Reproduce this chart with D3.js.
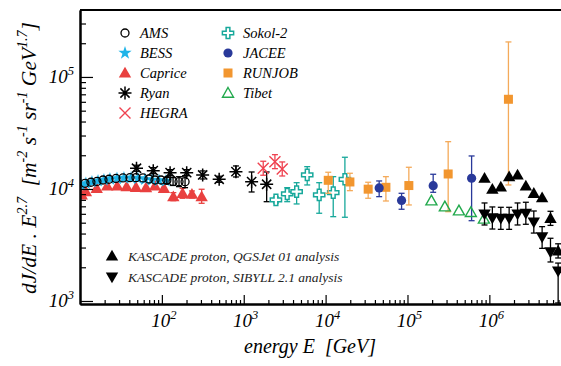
<!DOCTYPE html>
<html>
<head>
<meta charset="utf-8">
<script src="https://d3js.org/d3.v7.min.js"></script>
<style>
  body { margin: 0; background: #fff; }
  text { font-family: "Liberation Serif", "DejaVu Serif", serif; font-style: italic; }
</style>
</head>
<body>
<svg id="chart" width="561" height="366"></svg>
<script>
// ---- data (E in GeV, flux*E^2.7) ----
const amsE  = [11.5, 13.6, 16.1, 19.1, 22.6, 27.5, 33.5, 40.8, 48.3, 58.8, 69.5, 82.4, 97.5, 115, 137, 162, 192];
const amsF  = [11240, 11480, 11670, 12030, 12210, 12410, 12540, 12620, 12620, 12540, 12280, 12030, 12030, 11910, 11670, 11620, 11620];
const amsLo = [null, null, null, null, null, null, null, null, null, null, null, null, null, 11190, 10750, 10490, 10270];
const amsHi = [null, null, null, null, null, null, null, null, null, null, null, null, null, 12670, 12670, 12870, 13140];

const bessE = [10.3, 11.8, 14, 16.6, 19.6, 23.2, 28.3, 34.4, 42, 51, 62.2, 75.7, 92.2, 112];
const bessF = [10860, 11200, 11550, 11790, 12030, 12280, 12410, 12540, 12540, 12410, 12160, 12030, 11910, 11790];

const capriceE  = [10.5, 11.8, 16, 21.5, 28.5, 37.1, 48.3, 64, 82.4, 106, 138, 179, 233, 306];
const capriceF  = [8840, 9460, 10140, 10640, 10640, 10480, 10350, 10270, 10640, 10140, 8540, 9150, 8970, 8540];
const capriceLo = [null, null, null, null, null, null, null, null, null, null, 7860, 8260, 8310, 7450];
const capriceHi = [null, null, null, null, null, null, null, null, null, null, 9270, 10140, 9600, 9940];

const ryanE  = [49, 78.5, 126, 201, 315, 501, 803, 1248, 1905];
const ryanF  = [15310, 14570, 13980, 13980, 13340, 12210, 14270, 11620, 11020];
const ryanLo = [14390, 13690, 13140, 13140, 12280, 11470, 12800, 9400, 7700];
const ryanHi = [16290, 15500, 14870, 14870, 14490, 12990, 16050, 14180, 14180];

const hegraE  = [1730, 2404, 2953];
const hegraF  = [15310, 17530, 15090];
const hegraLo = [13260, 15180, 13060];
const hegraHi = [17680, 20250, 17430];

const sokolE  = [2472, 3396, 4425, 5960, 8350, 12390, 17200];
const sokolF  = [7980, 9020, 9460, 13340, 8840, 9270, 12210];
const sokolLo = [7500, 7700, 7350, 10860, 6070, 5660, 5590];
const sokolHi = [8490, 10270, 11380, 15820, 11380, 12880, 19190];

const jaceeE  = [45100, 84700, 206000, 607000];
const jaceeF  = [10210, 7900, 10700, 12460];
const jaceeLo = [8540, 6590, 9340, 5210];
const jaceeHi = [11790, 9150, 13530, 19710];

const runjobE  = [10770, 19800, 33100, 54500, 103900, 314000, 1710000];
const runjobF  = [11950, 11550, 9960, 10350, 10730, 13610, 63200];
const runjobLo = [9150, 9660, 8260, 7810, 7200, 6270, 10860];
const runjobHi = [14100, 13810, 11480, 12880, 15620, 26440, 205400];

const tibetE = [196000, 286000, 425000, 594000, 857000];
const tibetF = [7860, 6950, 6400, 6190, 5400];

const kascadeE  = [873000, 1088000, 1380000, 1745000, 2210000, 2790000, 3490000, 4410000, 5580000, 6920000];
const qgsF      = [12460, 9940, 10420, 12880, 13340, 10640, 9150, 8360, 5470, 2800];
const qgsLo     = [null, null, null, null, null, null, null, null, 4730, 2420];
const qgsHi     = [null, null, null, null, null, null, null, null, 6320, 3240];
const sibF      = [5980, 5510, 5470, 5470, 5980, 6070, 5070, 3730, 2740, 1850];
const sibLo     = [4770, 4390, 4360, 4360, 4770, 4840, 4040, 2950, 2230, 960];
const sibHi     = [7500, 6910, 6860, 6860, 7500, 7610, 6360, 4610, 3630, 2180];

const xLabelTicks = [1e2, 1e3, 1e4, 1e5, 1e6];
const yLabelTicks = [1e3, 1e4, 1e5];

const legendTop = ["AMS", "BESS", "Caprice", "Ryan", "HEGRA"];
const legendTop2 = ["Sokol-2", "JACEE", "RUNJOB", "Tibet"];
const legendBottom = ["KASCADE proton, QGSJet 01 analysis", "KASCADE proton, SIBYLL 2.1 analysis"];

// ---- layout ----
const svg = d3.select("#chart");
const pLeft = 80, pRight = 561, pTop = 10, pBottom = 304;

const x = d3.scaleLog().domain([10, 7.5e6]).range([pLeft, pRight]);
const y = d3.scaleLog().domain([940, 3.96e5]).range([pBottom, pTop]);

svg.append("defs").append("clipPath").attr("id", "plotclip")
  .append("rect").attr("x", pLeft).attr("y", pTop).attr("width", pRight - pLeft).attr("height", pBottom - pTop);

// ---- markers ----
function drawMarker(g, type, color) {
  if (type === "circleOpen") {
    g.append("circle").attr("r", 4).attr("fill", "none").attr("stroke", color).attr("stroke-width", 1.3);
  } else if (type === "circle") {
    g.append("circle").attr("r", 4.6).attr("fill", color);
  } else if (type === "star") {
    g.append("path").attr("d", d3.symbol(d3.symbolStar, 55)()).attr("fill", color);
  } else if (type === "triUp") {
    g.append("path").attr("d", "M0,-6.2L6.2,4.6L-6.2,4.6Z").attr("fill", color);
  } else if (type === "triDown") {
    g.append("path").attr("d", "M0,6.2L6.2,-4.6L-6.2,-4.6Z").attr("fill", color);
  } else if (type === "triOpen") {
    g.append("path").attr("d", "M0,-5.5L5.5,4.2L-5.5,4.2Z").attr("fill", "none")
      .attr("stroke", color).attr("stroke-width", 1.4);
  } else if (type === "square") {
    g.append("rect").attr("x", -4.5).attr("y", -4.5).attr("width", 9).attr("height", 9).attr("fill", color);
  } else if (type === "crossOpen") {
    g.append("path").attr("d", d3.symbol(d3.symbolCross, 70)()).attr("fill", "#fff")
      .attr("stroke", color).attr("stroke-width", 1.5);
  } else if (type === "asterisk") {
    const p = "M-6.5,0H6.5M0,-6.5V6.5M-4.6,-4.6L4.6,4.6M-4.6,4.6L4.6,-4.6";
    g.append("path").attr("d", p).attr("stroke", color).attr("stroke-width", 1.5).attr("fill", "none");
  } else if (type === "xmark") {
    g.append("path").attr("d", "M-5.5,-5.5L5.5,5.5M-5.5,5.5L5.5,-5.5")
      .attr("stroke", color).attr("stroke-width", 1.4).attr("fill", "none");
  }
}

const plot = svg.append("g").attr("clip-path", "url(#plotclip)");

function series(E, F, lo, hi, type, color, barColor) {
  const pts = E.map((e, i) => ({ e: e, f: F[i], lo: lo ? lo[i] : null, hi: hi ? hi[i] : null }));
  const g = plot.append("g");
  const bars = g.selectAll("g.err").data(pts.filter(d => d.lo != null)).join("g").attr("class", "err")
    .attr("stroke", barColor || color).attr("stroke-width", 1.3);
  bars.append("line")
    .attr("x1", d => x(d.e)).attr("x2", d => x(d.e))
    .attr("y1", d => y(d.lo)).attr("y2", d => y(d.hi));
  bars.append("line")
    .attr("x1", d => x(d.e) - 3).attr("x2", d => x(d.e) + 3)
    .attr("y1", d => y(d.lo)).attr("y2", d => y(d.lo));
  bars.append("line")
    .attr("x1", d => x(d.e) - 3).attr("x2", d => x(d.e) + 3)
    .attr("y1", d => y(d.hi)).attr("y2", d => y(d.hi));
  g.selectAll("g.pt").data(pts).join("g").attr("class", "pt")
    .attr("transform", d => `translate(${x(d.e)},${y(d.f)})`)
    .each(function () { drawMarker(d3.select(this), type, color); });
}

const C = {
  bess: "#1fb4e8", caprice: "#e9403f", hegra: "#ef4250", sokol: "#17a89b",
  jacee: "#29399a", runjob: "#f2962f", tibet: "#22a94d"
};

series(capriceE, capriceF, capriceLo, capriceHi, "triUp", C.caprice);
series(bessE, bessF, null, null, "star", C.bess);
series(amsE, amsF, amsLo, amsHi, "circleOpen", "#000");
series(ryanE, ryanF, ryanLo, ryanHi, "asterisk", "#000");
series(hegraE, hegraF, hegraLo, hegraHi, "xmark", C.hegra);
series(sokolE, sokolF, sokolLo, sokolHi, "crossOpen", C.sokol);
series(runjobE, runjobF, runjobLo, runjobHi, "square", C.runjob, "#f4aa5a");
series(jaceeE, jaceeF, jaceeLo, jaceeHi, "circle", C.jacee);
series(tibetE, tibetF, null, null, "triOpen", C.tibet);
series(kascadeE, sibF, sibLo, sibHi, "triDown", "#000");
series(kascadeE, qgsF, qgsLo, qgsHi, "triUp", "#000");

// ---- axes ----
const isMajor = v => Math.abs(Math.log10(v) - Math.round(Math.log10(v))) < 1e-6;
const xt = x.ticks().filter(v => v > 10 && v <= 7.5e6);
const yt = y.ticks().filter(v => v >= 940 && v <= 3.96e5);

const xAxis = svg.append("g").attr("transform", `translate(0,${pBottom})`);
xAxis.call(d3.axisBottom(x).tickValues(xt.filter(v => !isMajor(v))).tickSize(-4).tickSizeOuter(0).tickFormat(""));
xAxis.append("g").call(d3.axisBottom(x).tickValues(xt.filter(isMajor)).tickSize(-9).tickSizeOuter(0).tickFormat(""));
xAxis.selectAll(".domain").attr("stroke-width", 2);
xAxis.selectAll(".tick line").attr("stroke-width", 1.2);

const yAxis = svg.append("g").attr("transform", `translate(${pLeft},0)`);
yAxis.call(d3.axisLeft(y).tickValues(yt.filter(v => !isMajor(v))).tickSize(-6).tickSizeOuter(0).tickFormat(""));
yAxis.append("g").call(d3.axisLeft(y).tickValues(yt.filter(isMajor)).tickSize(-13).tickSizeOuter(0).tickFormat(""));
yAxis.selectAll(".domain").attr("stroke-width", 2);
yAxis.selectAll(".tick line").attr("stroke-width", 1.2);

svg.append("line").attr("x1", pLeft).attr("x2", pRight).attr("y1", pTop).attr("y2", pTop)
  .attr("stroke", "#000").attr("stroke-width", 2);

// tick labels 10^n
function powLabel(t, v) {
  t.append("tspan").text("10");
  t.append("tspan").attr("dy", -8).attr("font-size", 12.5).text(Math.round(Math.log10(v)));
}
svg.selectAll("text.xl").data(xLabelTicks).join("text").attr("class", "xl")
  .attr("x", d => x(d) + 2).attr("y", 327).attr("text-anchor", "middle").attr("font-size", 19)
  .each(function (d) { powLabel(d3.select(this), d); });
svg.selectAll("text.yl").data(yLabelTicks).join("text").attr("class", "yl")
  .attr("x", 74).attr("y", d => y(d) + 6).attr("text-anchor", "end").attr("font-size", 19)
  .each(function (d) { powLabel(d3.select(this), d); });

// axis titles
svg.append("text").attr("x", 310).attr("y", 353).attr("text-anchor", "middle").attr("font-size", 20)
  .text("energy E\u00a0\u00a0[GeV]");

const yTitle = svg.append("text").attr("transform", "translate(36,158) rotate(-90)")
  .attr("text-anchor", "middle").attr("font-size", 21.5);
const parts = [["dJ/dE . E", 0], ["2.7", 1], ["\u00a0\u00a0[m", 0], ["-2", 1], [" s", 0], ["-1", 1],
  [" sr", 0], ["-1", 1], [" GeV", 0], ["1.7", 1], ["]", 0]];
let raised = false;
parts.forEach(([s, sup]) => {
  const ts = yTitle.append("tspan").text(s);
  if (sup) ts.attr("font-size", 14);
  if (sup && !raised) { ts.attr("dy", -9); raised = true; }
  else if (!sup && raised) { ts.attr("dy", 9); raised = false; }
});

// ---- legends ----
const leg1 = [["circleOpen", "#000"], ["star", C.bess], ["triUp", C.caprice], ["asterisk", "#000"], ["xmark", C.hegra]];
const leg2 = [["crossOpen", C.sokol], ["circle", C.jacee], ["square", C.runjob], ["triOpen", C.tibet]];
const rowY = [33, 53, 73, 93, 113];

legendTop.forEach((name, i) => {
  const g = svg.append("g").attr("transform", `translate(125,${rowY[i]})`);
  drawMarker(g, leg1[i][0], leg1[i][1]);
  svg.append("text").attr("x", 140).attr("y", rowY[i] + 5).attr("font-size", 14.5).text(name);
});
legendTop2.forEach((name, i) => {
  const g = svg.append("g").attr("transform", `translate(228,${rowY[i]})`);
  drawMarker(g, leg2[i][0], leg2[i][1]);
  svg.append("text").attr("x", 243).attr("y", rowY[i] + 5).attr("font-size", 14.5).text(name);
});
const legB = ["triUp", "triDown"];
const rowB = [256, 277];
legendBottom.forEach((name, i) => {
  const g = svg.append("g").attr("transform", `translate(112,${rowB[i]})`);
  drawMarker(g, legB[i], "#000");
  svg.append("text").attr("x", 128).attr("y", rowB[i] + 5).attr("font-size", 13.5).attr("fill", "#222").text(name);
});
</script>
</body>
</html>
